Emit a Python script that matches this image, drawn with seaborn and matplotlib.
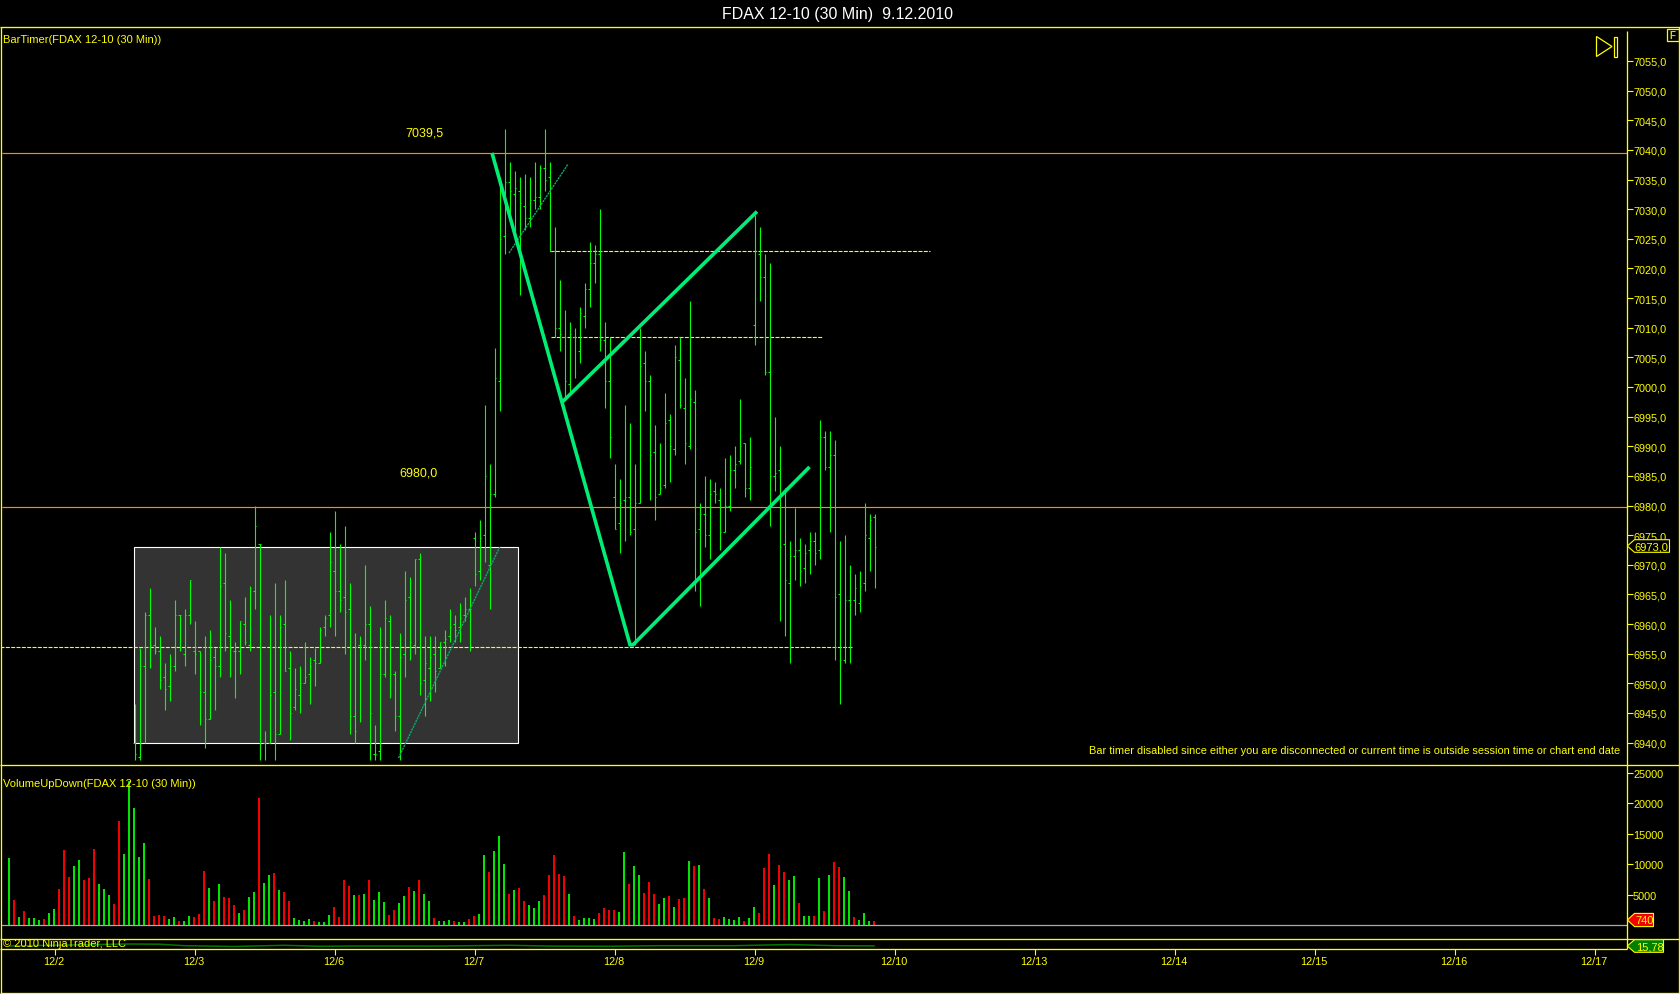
import matplotlib
matplotlib.use("Agg")
import matplotlib.pyplot as plt
from matplotlib.patches import Rectangle, Polygon
from matplotlib.transforms import ScaledTranslation
import numpy as np
import pandas as pd
import seaborn as sns

W, H = 1680, 995
FIRST_BAR = 25

highs = [
6946.5,6956,6962,6966,6959.5, 6958,6953.5,6955,6964,6961.5, 6962.5,6967.5,6960.5,6955.5,6958,
6959,6956,6973,6972,6964, 6957,6960.5,6964.5,6966.5,6980, 6973.5,6942,6961.5,6967,6961.5,
6967.5,6955.5,6952.5,6953,6957, 6954.5,6956,6959.5,6961.5,6975.5, 6979,6973.5,6976.5,6967,6958.5,
6958,6970,6963,6943,6959.5, 6964,6961.5,6952,6958.5,6969, 6968,6971,6972,6958,6958,
6958,6957,6959,6962.5,6961.5, 6963.5,6964.5,6966,6975.5,6977.5, 6997,6987,7006.5,7035.5,7043.5,
7038,7036.5,7035.5,7036,7035.5, 7038,7037.5,7043.5,7038,7027, 7018,7013,7011,7010,7013.5,
7017.5,7024.5,7024,7030,7011, 7008.5,6987,6984.5,6997,6994, 6987,7010,7006,7002,6993.5,
6990.5,6999,6995.5,7007,7008.5, 7001.5,7014.5,6999.5,6980.5,6985, 6984.5,6984,6983,6988,6988.5,
6990,6998,6990.5,6991.5,7029, 7027,7022.5,7021,6995,6990, 6983,6974,6979.5,6974.5,6973.5,
6975.5,6975.5,6994.5,6992.5,6992.5, 6991,6974,6975,6970,6968.5, 6969,6980.5,6978.5,6978.5]
lows = [
6937,6937,6940,6952.5,6955, 6949,6945.5,6947,6952,6955.5, 6953,6960,6951.5,6943,6939,
6944,6945.5,6951,6955.5,6951, 6947.5,6951.5,6956.5,6955.5,6962.5, 6937,6937,6940,6937,6941.5,
6952,6940.5,6945.5,6945,6950, 6946.5,6949.5,6953.5,6958,6959.5, 6958,6962,6955,6941.5,6940,
6943.5,6954,6937,6937,6937, 6951,6947.5,6942,6937,6951, 6954,6955,6948,6944.5,6947,
6948.5,6952.5,6953,6957,6957, 6957,6960.5,6955.5,6966.5,6967.5, 6970.5,6962.5,6981.5,6996,7022.5,
7028.5,7025,7015.5,7026.5,7027, 7030,7030,7033,7023,7008.5, 7006,6998,6999,7001.5,7004,
7010,7013.5,7017.5,7006,6996.5, 6988,6976,6972,6974,6975, 6956.5,6980.5,6996,6981,6977.5,
6982,6983,6984,6988.5,6996.5, 6987,6989.5,6965.5,6963,6973, 6971,6980.5,6972.5,6975.5,6979,
6983,6987,6981.5,6981,7007, 7014.5,7002,6976.5,6982.5,6960.5, 6958,6953.5,6967.5,6966.5,6967,
6968.5,6970,6971,6986,6975.5, 6954,6946.5,6953.5,6953.5,6961.5, 6962,6965.5,6969,6966]
opens = [
6940,6937.5,6953,6961.5,6956.5, 6955.5,6951,6949.5,6953,6961.5, 6955,6961.5,6955.5,6955.5,6948.5,
6944,6954.5,6953,6967,6958, 6955.5,6955.5,6960,6956.5,6965.5, 6973.5,6940,6940,6948.5,6941.5,
6960,6952.5,6946,6948,6950, 6951.5,6954,6953.5,6959.5,6961.5, 6969,6965.5,6964.5,6962.5,6944.5,
6956.5,6956.5,6960,6938,6938.5, 6951.5,6960.5,6951.5,6944.5,6955, 6964.5,6956.5,6971,6950.5,6952.5,
6955,6952.5,6957,6958,6960, 6959.5,6961.5,6962.5,6974.5,6969, 6975,6970,6982,7001,7025.5,
7034.5,7032.5,7033,7030.5,7028.5, 7031.5,7032,7037,7035.5,7023, 7010,7008.5,7000.5,7008.5,7006,
7012,7016.5,7021,7022.5,7008, 7001,6981.5,6977,6981,6981.5, 6976,6980.5,7004,7001,6989,
6982,6983.5,6994.5,6989.5,7004.5, 6996.5,6990,6997.5,6976,6978.5, 6975,6982.5,6981,6975.5,6980,
6986,6987.5,6990.5,6983,7010.5, 7022.5,7018.5,7002.5,6985,6986, 6973.5,6967,6971.5,6972.5,6969.5,
6972.5,6974,6972.5,6991.5,6986.5, 6988.5,6965,6954,6964,6964, 6963.5,6967,6974.5,6978]
closes = [
6938,6953,6961.5,6956.5,6955.5, 6950.5,6949,6953,6961.5,6961.5, 6961.5,6967.5,6955,6948.5,6944,
6954,6953,6966.5,6958.5,6956, 6955.5,6960.5,6957,6966,6976.5, 6973.5,6940,6948,6941.5,6959.5,
6952,6945,6949,6950,6951, 6953,6953.5,6959,6961,6970.5, 6965.5,6964,6962,6944.5,6942,
6956.5,6960,6945,6938,6951.5, 6961,6951.5,6944.5,6954.5,6964, 6957,6971,6950,6953.5,6954.5,
6952,6957,6957.5,6959.5,6959, 6961,6962.5,6962.5,6968.5,6974.5, 6985,6982,7001.5,7025,7034.5,
7033,7033.5,7031,7028.5,7031.5, 7032,7037,7035,7023,7010, 7009,7001,7009,7008.5,7012.5,
7016.5,7021,7022.5,7008,7001, 6991.5,6976,6980.5,6981.5,6975.5, 6980.5,7003.5,7001,6988.5,6981.5,
6983,6994,6990,7005,6997, 6990.5,6998,6975.5,6978.5,6975, 6982,6982,6975.5,6980,6986,
6987,6990,6983,6986.5,7023, 7018.5,7002.5,6985,6985.5,6973, 6967.5,6971.5,6972.5,6969,6972,
6974,6972,6991.5,6986.5,6988.5, 6964.5,6954,6964,6964,6966, 6966.5,6975,6977.5,6973]

volumes = [
11070,4165,1370,2356,1206,1206,877,1040,2030,2685, 5970,12385,7945,9755,10740,7450,7780,12550,6795,5970,
4985,3505,17150,11725,23700,19290,11235,13535,7615,1535, 1700,1535,1040,1370,710,710,1535,1370,1860,8930,
6140,4000,6795,4660,4495,3340,2030,2520,4660,5480, 20930,6960,8275,8600,5810,5480,4000,1206,877,710,
1040,710,550,550,1700,3015,1370,7450,6465,4985, 4985,5150,7450,4165,5480,3835,1700,2520,3670,4820,
6300,5645,7450,5150,4000,1206,710,710,877,710, 550,550,1040,1535,1860,11560,8770,12220,14685,10085,
5150,5810,6140,4000,3340,2850,4000,4985,8275,11560, 8440,8110,5150,1535,877,1206,1206,1040,2030,2850,
2520,2520,2190,12055,6795,9755,8275,5315,7125,5150, 3505,4495,4820,3015,4330,4495,10575,9755,9920,5970,
4495,1206,1040,1370,1040,877,1370,710,1206,3015, 2030,9425,11725,6630,9920,8770,7450,8110,3670,1535,
1535,1535,7780,2356,8275,10410,9590,7945,5645,1370, 877,2030,710,740]
directions = list(
"GRGRGGGRGG" "RRRGGRRRGG" "GRRGGGGGRR" "RRGGRGGRRR" "GRGRRRGRGG" "RGGRGRRGGG"
"GRGGGRRRRG" "RGRGGGRRGG" "RGRGGRGGGR" "GGRRGGRGGG" "RGRRGGGRRR" "RRGRGGGGRR"
"RRGGRGGRRR" "GGRGRRGRGR" "GRRGGGGRGG" "RRRGRRGGRG" "GRGRGRRGGR" "GGGR")

indicator_x = [0, 12, 24, 30, 35, 45, 55, 62, 70, 85, 100, 108, 120, 130, 145, 156, 165, 173]
indicator_y = [15, 25, 35, 33, 18, 10, 22, 12, 15, 14, 22, 14, 12, 18, 18, 30, 18, 15.78]

date_ticks = [9, 37, 65, 93, 121, 149, 177, 205, 233, 261, 289, 317]
date_labels = ["12/2", "12/3", "12/6", "12/7", "12/8", "12/9", "12/10", "12/13", "12/14", "12/15", "12/16", "12/17"]
price_ticks = list(range(6940, 7056, 5))
volume_ticks = [5000, 10000, 15000, 20000, 25000]

range_box = (24.9, 101.75, 6940, 6973)
level_high, level_low = 7039.5, 6979.7
dash_levels = [(-2, 168.5, 6956.1), (108, 184, 7022.9), (108.3, 162.5, 7008.4)]
thick_legs = [([96.5, 124.1, 124.7, 160.0], [7039.5, 6956.5, 6956.5, 6986.5]),
              ([110.6, 149.5], [6997.5, 7029.6])]
thin_legs = [([77.8, 98.06], [6937.4, 6973.0]), ([99.9, 111.7], [7022.6, 7037.6])]

YEL = "#FFFF00"
sns.set_theme(style="dark", rc={"figure.facecolor": "black", "axes.facecolor": "black", "savefig.facecolor": "black"})
plt.rcParams["font.family"] = ["Liberation Sans", "DejaVu Sans"]

fig = plt.figure(figsize=(W / 100, H / 100), dpi=100)


def px_axes(x0, y0, x1, y1, **kw):
    return fig.add_axes([x0 / W, 1 - y1 / H, (x1 - x0) / W, (y1 - y0) / H], **kw)


X0, X1 = 1.5, 1626.5
xlim = ((X0 - 9.5) / 5, (X1 - 9.5) / 5)
ax = px_axes(X0, 27.5, X1, 765.5)
avol = px_axes(X0, 765.5, X1, 939.5)
aind = px_axes(X0, 939.5, X1, 949.5)

# price panel
ax.set_facecolor("black")
ax.set_xlim(*xlim)
ax.set_ylim(6936.3, 7060.82)
idx = np.arange(FIRST_BAR, FIRST_BAR + len(highs))
ax.add_patch(Rectangle((range_box[0], range_box[2]), range_box[1] - range_box[0], range_box[3] - range_box[2],
                       facecolor="#333333", edgecolor="white", lw=0.8, zorder=1))
ax.hlines([level_high, level_low], *xlim, color="#FF8C00", lw=0.85, zorder=2, snap=True)
for a, b, lvl in dash_levels:
    ax.plot([a, b], [lvl, lvl], color=YEL, lw=0.8, ls=(0, (3.6, 1.2)), zorder=2)
green = "#00FF00"
ax.vlines(idx, lows, highs, color=green, lw=0.8, zorder=3, snap=True)
ax.hlines(opens, idx - 0.3, idx, color=green, lw=0.75, zorder=3, snap=True)
ax.hlines(closes, idx, idx + 0.3, color=green, lw=0.75, zorder=3, snap=True)
for xs, ys in thick_legs:
    ax.plot(xs, ys, color="#00EE76", lw=2.6, zorder=5, solid_capstyle="butt", solid_joinstyle="miter")
for xs, ys in thin_legs:
    ax.plot(xs, ys, color="#12A66A", lw=1.0, ls=(0, (1.6, 0.6)), zorder=4)
ax.yaxis.tick_right()
ax.set_yticks(price_ticks)
ax.set_yticklabels([f"{v:.1f}".replace(".", ",") for v in price_ticks])
ax.set_xticks([])
ax.tick_params(axis="y", colors=YEL, length=4, width=0.8, pad=0.7, labelsize=7.8, right=True)
ax.grid(False)
for s in ax.spines.values():
    s.set_visible(False)

# volume panel
vol_df = pd.DataFrame({"bar": np.arange(len(volumes)), "volume": volumes, "dir": directions})
sns.barplot(data=vol_df, x="bar", y="volume", hue="dir", hue_order=["G", "R"], palette={"G": "#00E600", "R": "#F50000"},
            native_scale=True, dodge=False, width=0.4, saturation=1, legend=False, linewidth=0, ax=avol, zorder=3)
avol.set_facecolor("black")
avol.set_xlim((X0 - 9) / 5, (X1 - 9) / 5)
avol.set_ylim(-2220, 26398)
avol.axhline(0, color="#AAAAAA", lw=0.9, zorder=4)
avol.yaxis.tick_right()
avol.set_yticks(volume_ticks)
avol.set_yticklabels([str(v) for v in volume_ticks])
avol.set_xticks([])
avol.set_xlabel("")
avol.set_ylabel("")
avol.tick_params(axis="y", colors=YEL, length=4, width=0.8, pad=0.7, labelsize=7.8, right=True)
avol.grid(False)
for s in avol.spines.values():
    s.set_visible(False)

# indicator panel with the date axis
sns.lineplot(x=indicator_x, y=indicator_y, color="#007800", lw=1.1, ax=aind, estimator=None, sort=False)
aind.set_facecolor("black")
aind.set_xlim(*xlim)
aind.set_ylim(-10, 90)
aind.set_yticks([])
aind.set_xticks(date_ticks)
aind.set_xticklabels(date_labels)
aind.tick_params(axis="x", colors=YEL, length=4.5, width=0.8, pad=1.2, labelsize=7.8, bottom=True)
shift = ScaledTranslation(-1 / 100, 0, fig.dpi_scale_trans)
for lab in aind.get_xticklabels():
    lab.set_transform(lab.get_transform() + shift)
aind.grid(False)
for s in aind.spines.values():
    s.set_visible(False)

# chart frame, price tags and captions, in figure pixels
ov = px_axes(0, 0, W, H)
ov.set_xlim(0, W)
ov.set_ylim(H, 0)
ov.axis("off")
ov.patch.set_alpha(0)
lw = 0.95
for xs, ys in [([0, W], [27.5, 27.5]), ([0, W], [765.5, 765.5]), ([0, W], [939.5, 939.5]),
               ([0, X1], [949.5, 949.5]), ([0, W], [994.3, 994.3]), ([0.8, 0.8], [27.5, 995]),
               ([1679.2, 1679.2], [27.5, 995]), ([X1, X1], [32, 949.5])]:
    ov.plot(xs, ys, color=YEL, lw=lw, solid_capstyle="butt")

ov.text(837, 15, "FDAX 12-10 (30 Min)  9.12.2010", color="white", fontsize=11.5, ha="center", va="center")
ov.text(3, 40, "BarTimer(FDAX 12-10 (30 Min))", color=YEL, fontsize=8, ha="left", va="center")
ov.text(3, 784, "VolumeUpDown(FDAX 12-10 (30 Min))", color=YEL, fontsize=8, ha="left", va="center")
ov.text(3, 944, "© 2010 NinjaTrader, LLC", color=YEL, fontsize=8, ha="left", va="center")
ov.text(424, 133.2, "7039,5", color=YEL, fontsize=9, ha="center", va="center")
ov.text(419, 473.2, "6980,0", color=YEL, fontsize=9, ha="center", va="center")
ov.text(1620, 750.5, "Bar timer disabled since either you are disconnected or current time is outside session time or chart end date",
        color=YEL, fontsize=7.9, ha="right", va="center")

ov.add_patch(Polygon([(1596.5, 37.5), (1596.5, 57.5), (1612, 47.5)], closed=True, fill=False, edgecolor=YEL, lw=0.9))
ov.add_patch(Rectangle((1613.5, 37.5), 3, 20, fill=False, edgecolor=YEL, lw=0.9))
ov.add_patch(Rectangle((1666.5, 29.5), 12.5, 12, facecolor="black", edgecolor=YEL, lw=0.9))
ov.text(1672.7, 35.8, "F", color="#C8E000", fontsize=7, ha="center", va="center", fontweight="bold")


def tag(tip_y, x_end, half, face, label, cx):
    pts = [(1627.3, tip_y), (1634.5, tip_y - half), (x_end, tip_y - half), (x_end, tip_y + half), (1634.5, tip_y + half)]
    ov.add_patch(Polygon(pts, closed=True, facecolor=face, edgecolor=YEL, lw=0.8, zorder=6))
    ov.text(cx, tip_y + 0.3, label, color=YEL, fontsize=8, ha="center", va="center", zorder=7)


tag(547, 1669.5, 6.3, "black", "6973,0", 1651.5)
tag(921, 1653.5, 6.6, "#F50000", "740", 1644.5)
tag(947, 1663.5, 6.3, "#008000", "15,78", 1649.5)

fig.savefig("out.png", dpi=100, facecolor="black")
